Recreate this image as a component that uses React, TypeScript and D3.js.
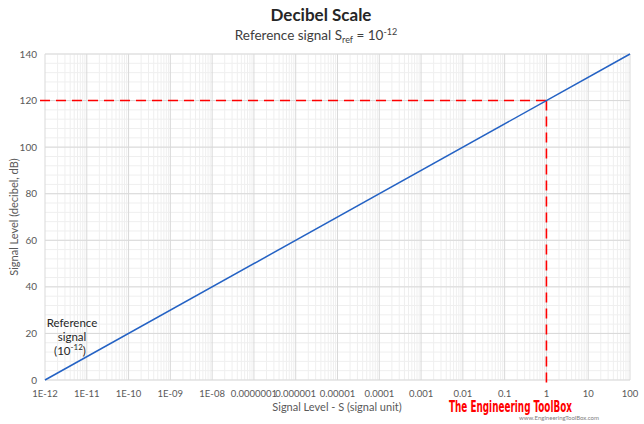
import React, { useEffect, useRef } from 'react';
import * as d3 from 'd3';

// decades shown on the x axis (signal values) and their labels as printed
const decadeValues = [1e-12, 1e-11, 1e-10, 1e-9, 1e-8, 1e-7, 1e-6, 1e-5, 1e-4, 1e-3, 1e-2, 1e-1, 1, 10, 100];
const decadeLabels = ['1E-12', '1E-11', '1E-10', '1E-09', '1E-08', '0.0000001', '0.000001', '0.00001', '0.0001', '0.001', '0.01', '0.1', '1', '10', '100'];
const dbTicks = [0, 20, 40, 60, 80, 100, 120, 140];

// the decibel line: L = 10 log10(S / 1e-12) sampled at its ends
const lineSignal = [1e-12, 100];
const lineDb = [0, 140];

// highlighted point
const markSignal = 1;
const markDb = 120;

const App = () => {
  const ref = useRef<SVGSVGElement>(null);

  useEffect(() => {
    const svg = d3.select(ref.current);
    svg.selectAll('*').remove();

    const left = 45, right = 630, top = 54, bottom = 380;
    const font = 'Lato, "Open Sans", sans-serif';

    const x = d3.scaleLog().domain([1e-12, 100]).range([left, right]);
    const y = d3.scaleLinear().domain([0, 140]).range([bottom, top]);

    const grid = svg.append('g');
    // minor vertical (log 2..9 within each decade)
    decadeValues.slice(0, -1).forEach(d => {
      for (let k = 2; k <= 9; k++) {
        grid.append('line')
          .attr('x1', x(d * k)).attr('x2', x(d * k))
          .attr('y1', top).attr('y2', bottom)
          .attr('stroke', '#efefef').attr('stroke-width', 1);
      }
    });
    // minor horizontal every 4 dB
    d3.range(0, 141, 4).forEach(v => {
      grid.append('line')
        .attr('x1', left).attr('x2', right)
        .attr('y1', y(v)).attr('y2', y(v))
        .attr('stroke', '#efefef').attr('stroke-width', 1);
    });
    decadeValues.forEach(d => {
      grid.append('line')
        .attr('x1', x(d)).attr('x2', x(d))
        .attr('y1', top).attr('y2', bottom)
        .attr('stroke', '#d9d9d9').attr('stroke-width', 1);
    });
    dbTicks.forEach(v => {
      grid.append('line')
        .attr('x1', left).attr('x2', right)
        .attr('y1', y(v)).attr('y2', y(v))
        .attr('stroke', '#d9d9d9').attr('stroke-width', 1);
    });

    // x tick labels
    decadeValues.forEach((d, i) => {
      svg.append('text')
        .attr('x', x(d)).attr('y', bottom + 17)
        .attr('text-anchor', 'middle')
        .attr('font-family', font).attr('font-size', 9.5)
        .attr('fill', '#595959')
        .text(decadeLabels[i]);
    });
    // y tick labels
    dbTicks.forEach(v => {
      svg.append('text')
        .attr('x', left - 8).attr('y', y(v) + 3.5)
        .attr('text-anchor', 'end')
        .attr('font-family', font).attr('font-size', 10)
        .attr('fill', '#595959')
        .text(v);
    });

    // dashed reference lines
    svg.append('line')
      .attr('x1', left - 5).attr('x2', x(markSignal))
      .attr('y1', y(markDb)).attr('y2', y(markDb))
      .attr('stroke', '#ff0000').attr('stroke-width', 1.6)
      .attr('stroke-dasharray', '10,6');
    svg.append('line')
      .attr('x1', x(markSignal)).attr('x2', x(markSignal))
      .attr('y1', y(markDb)).attr('y2', bottom + 8)
      .attr('stroke', '#ff0000').attr('stroke-width', 1.6)
      .attr('stroke-dasharray', '10,6');

    // decibel line
    const line = d3.line<number>()
      .x((_, i) => x(lineSignal[i]))
      .y(d => y(d));
    svg.append('path')
      .attr('d', line(lineDb))
      .attr('fill', 'none')
      .attr('stroke', '#2462c4').attr('stroke-width', 1.5);

    // titles
    svg.append('text')
      .attr('x', 321).attr('y', 21)
      .attr('text-anchor', 'middle')
      .attr('font-family', font).attr('font-size', 17).attr('font-weight', 'bold')
      .attr('fill', '#262626')
      .text('Decibel Scale');
    const sub = svg.append('text')
      .attr('x', 316).attr('y', 40)
      .attr('text-anchor', 'middle')
      .attr('font-family', font).attr('font-size', 13.5)
      .attr('fill', '#404040');
    sub.append('tspan').text('Reference signal S');
    sub.append('tspan').attr('font-size', 9).attr('dy', 3).text('ref');
    sub.append('tspan').attr('dy', -3).text(' = 10');
    sub.append('tspan').attr('font-size', 9).attr('dy', -5).text('-12');

    // axis titles
    svg.append('text')
      .attr('x', 337).attr('y', 411)
      .attr('text-anchor', 'middle')
      .attr('font-family', font).attr('font-size', 11)
      .attr('fill', '#595959')
      .text('Signal Level - S (signal unit)');
    svg.append('text')
      .attr('transform', 'translate(18,217) rotate(-90)')
      .attr('text-anchor', 'middle')
      .attr('font-family', font).attr('font-size', 11)
      .attr('fill', '#595959')
      .text('Signal Level (decibel, dB)');

    // annotation
    const note = svg.append('text')
      .attr('text-anchor', 'middle')
      .attr('font-family', font).attr('font-size', 11.5)
      .attr('fill', '#262626');
    note.append('tspan').attr('x', 72).attr('y', 327).text('Reference');
    note.append('tspan').attr('x', 72).attr('y', 341).text('signal');
    const l3 = note.append('tspan').attr('x', 70).attr('y', 355);
    l3.text('(10');
    note.append('tspan').attr('font-size', 8).attr('dy', -5).text('-12');
    note.append('tspan').attr('dy', 5).text(')');

    // logo
    svg.append('text')
      .attr('x', 449).attr('y', 412)
      .attr('font-family', '"Liberation Sans Narrow", "DejaVu Sans Condensed", sans-serif')
      .attr('font-weight', 'bold').attr('font-size', 15)
      .attr('textLength', 123).attr('lengthAdjust', 'spacingAndGlyphs')
      .attr('fill', '#ff0000')
      .text('The Engineering ToolBox');
    svg.append('text')
      .attr('x', 519).attr('y', 420)
      .attr('font-family', font).attr('font-size', 5.5)
      .attr('textLength', 80).attr('lengthAdjust', 'spacingAndGlyphs')
      .attr('fill', '#808080')
      .text('www.EngineeringToolBox.com');
  }, []);

  return (
    <svg ref={ref} width={644} height={424} style={{ position: 'absolute', left: 0, top: 0, background: '#fff' }} />
  );
};

export default App;
